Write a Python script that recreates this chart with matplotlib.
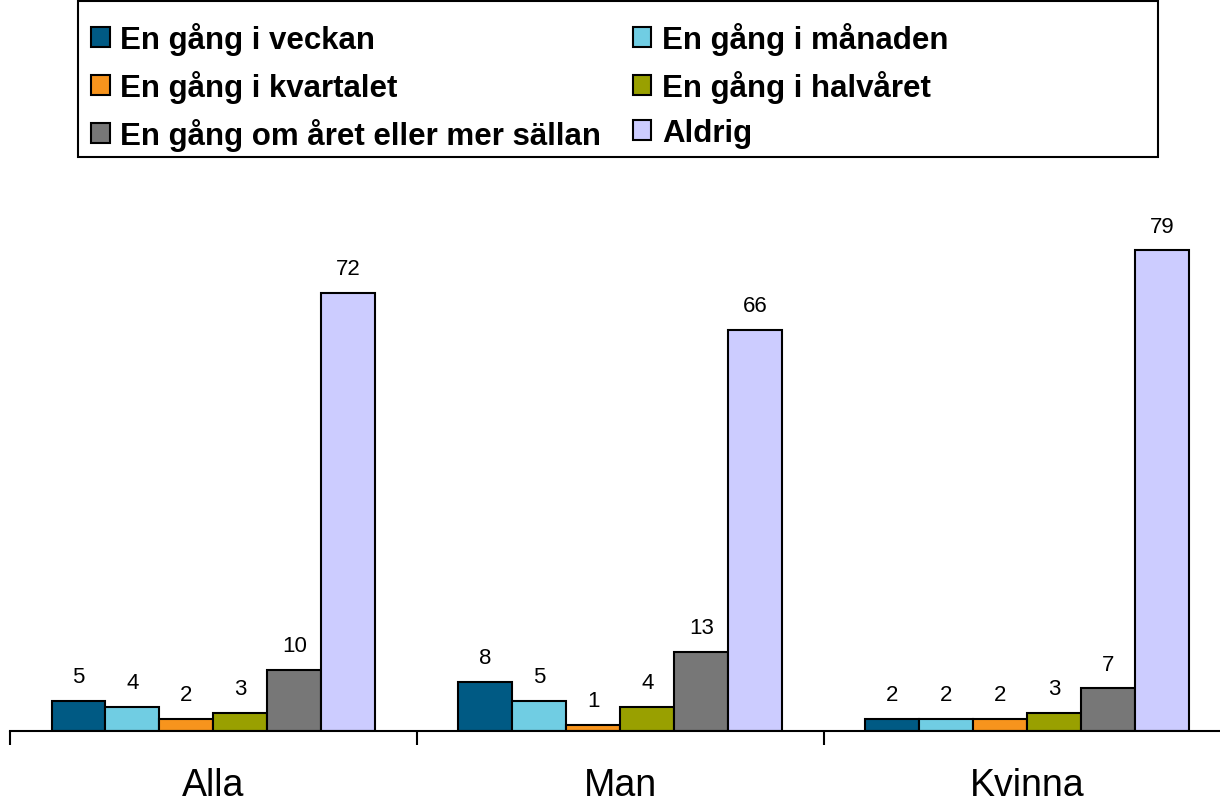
import numpy as np
import matplotlib.pyplot as plt
from matplotlib.patches import Rectangle

# data
groups = ["Alla", "Man", "Kvinna"]
series = ["En gång i veckan", "En gång i månaden", "En gång i kvartalet",
          "En gång i halvåret", "En gång om året eller mer sällan", "Aldrig"]
veckan = [5, 8, 2]
manaden = [4, 5, 2]
kvartalet = [2, 1, 2]
halvaret = [3, 4, 3]
aret = [10, 13, 7]
aldrig = [72, 66, 79]
values = [veckan, manaden, kvartalet, halvaret, aret, aldrig]
colors = ["#005A84", "#70CDE3", "#F7941D", "#99A000", "#777777", "#CCCCFF"]

plt.rcParams["font.family"] = ["Liberation Sans", "DejaVu Sans"]

fig = plt.figure(figsize=(12.2, 8.04), dpi=100)
ax = fig.add_axes([10 / 1220, 72 / 804, 1221 / 1220, 517 / 804])

x = np.arange(len(groups))
w = 54 / 407
handles = []
for i, (name, vals) in enumerate(zip(series, values)):
    pos = x + (i - 2.5) * w
    bars = ax.bar(pos, vals, width=w, color=colors[i], edgecolor="black",
                  linewidth=1.5, label=name)
    handles.append(bars)
    for xp, v in zip(pos, vals):
        ax.annotate(str(v), (xp, v), xytext=(0, 10), textcoords="offset points",
                    ha="center", va="bottom", fontsize=16)

ax.set_xlim(-0.5, 2.5)
ax.set_ylim(0, 85)
ax.set_yticks([])
ax.set_xticks(x)
ax.set_xticklabels(groups, fontsize=27)
ax.tick_params(axis="x", which="major", length=0, pad=26)
ax.set_xticks([-0.5, 0.5, 1.5, 2.5], minor=True)
ax.tick_params(axis="x", which="minor", length=10, width=1.5, direction="out")
for s in ["top", "right", "left"]:
    ax.spines[s].set_visible(False)
ax.spines["bottom"].set_linewidth(1.5)

# legend (frame drawn separately so the columns sit like the reference)
order = [0, 2, 4, 1, 3, 5]
leg = fig.legend([handles[i] for i in order], [series[i] for i in order],
                 loc="upper left", ncol=2, bbox_to_anchor=(72 / 1220, 1 - 4 / 804),
                 prop={"weight": "bold", "size": 22.5}, frameon=False,
                 handlelength=0.6, handleheight=0.6, handletextpad=0.35,
                 labelspacing=0.48, columnspacing=1.0, borderpad=0.1)
fig.patches.append(Rectangle((78 / 1220, 1 - 158 / 804), 1080 / 1220, 156 / 804,
                             transform=fig.transFigure, fill=False,
                             edgecolor="black", linewidth=1.5))

plt.savefig("out.png", dpi=100)
